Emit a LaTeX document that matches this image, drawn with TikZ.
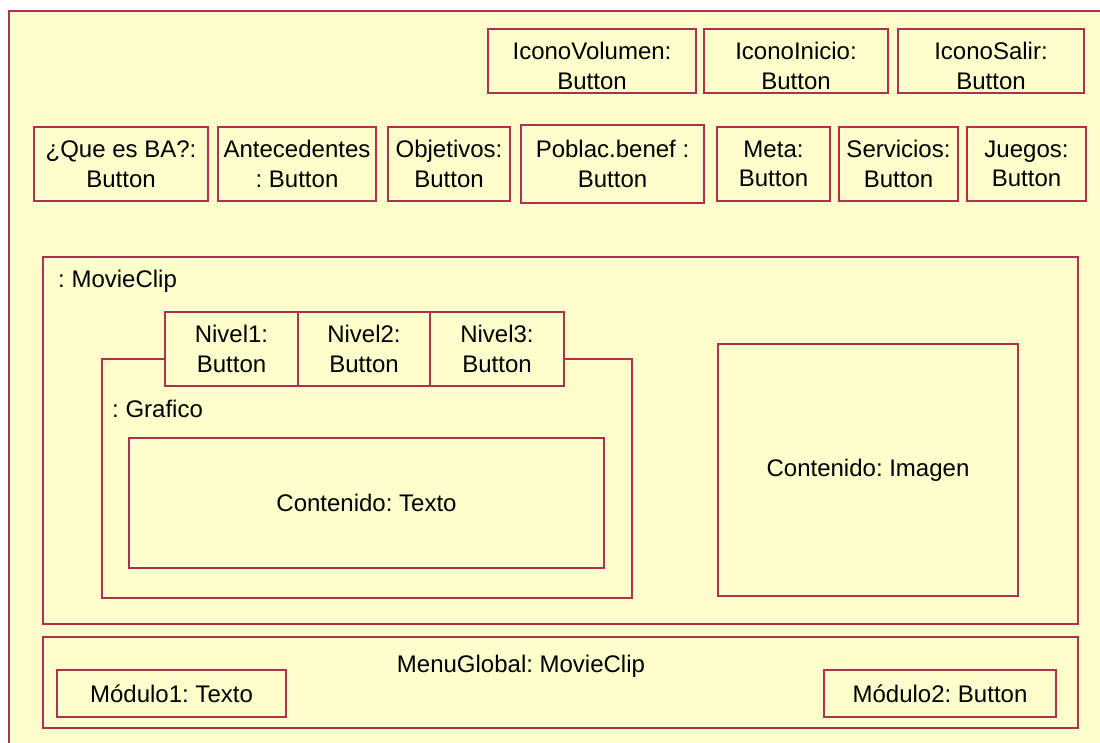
\documentclass[tikz,border=0pt]{standalone}
\usepackage{fontspec}
\setmainfont{Liberation Sans}
\usepackage{xcolor}
\definecolor{marco}{HTML}{B0304F}
\definecolor{papel}{HTML}{FEFDCC}
\frenchspacing
\tikzset{
    caja/.style={draw=marco, line width=2pt, fill=papel, anchor=north west, inner sep=0pt, align=center, font=\fontsize{24}{29.5}\selectfont},
    icono/.style={caja, minimum height=64, text height=57pt},
    etiqueta/.style={inner sep=0pt, anchor=west, font=\fontsize{24}{29.5}\selectfont}
}
\begin{document}
\begin{tikzpicture}[x=1pt, y=-1pt]
    \clip (0,0) rectangle (1100,742);
    \fill[white] (0,0) rectangle (1100,742);
    \node[caja, minimum width=1110, minimum height=750] (pantalla) at (8,10) {};
    % iconos de la cabecera
    \node[icono, minimum width=208] (volumen) at (487,28) {IconoVolumen:\\Button};
    \node[icono, minimum width=184] (inicio) at (703,28) {IconoInicio:\\Button};
    \node[icono, minimum width=186] (salir) at (897,28) {IconoSalir:\\Button};
    % botones del menu
    \node[caja, minimum width=174, minimum height=74] (quees) at (33,126) {¿Que es BA?:\\Button};
    \node[caja, minimum width=158, minimum height=74] (antecedentes) at (217,126) {Antecedentes\\: Button};
    \node[caja, minimum width=122, minimum height=74] (objetivos) at (387,126) {Objetivos:\\Button};
    \node[caja, minimum width=183, minimum height=78] (poblacion) at (520,124) {Poblac.benef :\\Button};
    \node[caja, minimum width=113, minimum height=74] (meta) at (716,126) {Meta:\\Button};
    \node[caja, minimum width=119, minimum height=74] (servicios) at (838,126) {Servicios:\\Button};
    \node[caja, minimum width=119, minimum height=74] (juegos) at (966,126) {Juegos:\\Button};
    % movieclip central
    \node[caja, minimum width=1035, minimum height=367] (clip) at (42,256) {};
    \node[etiqueta] (clipnombre) at (58,281) {: MovieClip};
    \node[caja, minimum width=530, minimum height=239] (grafico) at (101,358) {};
    \node[etiqueta] (graficonombre) at (112,409) {: Grafico};
    \node[caja, minimum width=475, minimum height=130] (texto) at (128,437) {Contenido: Texto};
    \node[caja, minimum width=133, minimum height=74] (nivel1) at (164,311) {Nivel1:\\Button};
    \node[caja, minimum width=132, minimum height=74] (nivel2) at (297,311) {Nivel2:\\Button};
    \node[caja, minimum width=134, minimum height=74] (nivel3) at (429,311) {Nivel3:\\Button};
    \node[caja, minimum width=300, minimum height=252] (imagen) at (717,343) {Contenido: Imagen};
    % menu global
    \node[caja, minimum width=1035, minimum height=91] (menu) at (42,636) {};
    \node[etiqueta, anchor=center] (menunombre) at (521,666) {MenuGlobal: MovieClip};
    \node[caja, minimum width=229, minimum height=47] (modulo1) at (56,669) {Módulo1: Texto};
    \node[caja, minimum width=232, minimum height=47] (modulo2) at (823,669) {Módulo2: Button};
\end{tikzpicture}
\end{document}
